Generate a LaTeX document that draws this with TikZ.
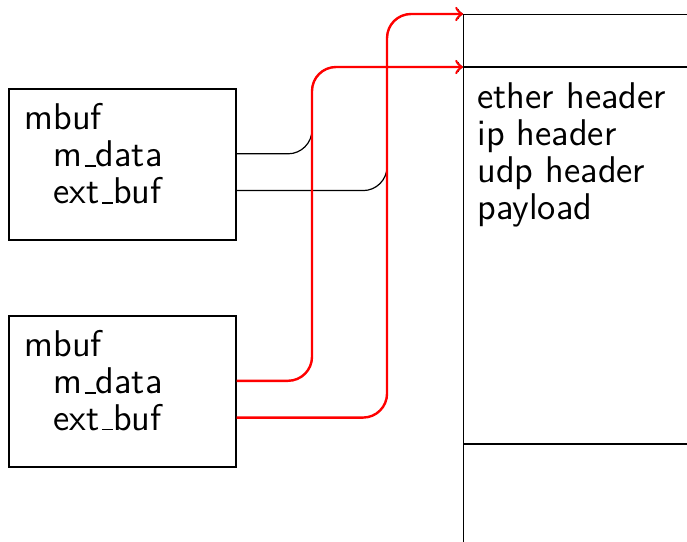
\documentclass[tikz,border=0pt]{standalone}
\usepackage{tikz}
\colorlet{cloneink}{red}
\newcommand{\lowbar}{\leavevmode\kern.06em\vbox{\hrule width.3em}}
\tikzset{
  every node/.style={font=\sffamily\fontsize{12.4}{12.3}\selectfont},
  mbufbox/.style={draw, thin, inner sep=0pt, minimum width=2.659cm, minimum height=1.769cm},
  field/.style={anchor=base west, inner sep=0pt},
  ptr/.style={thin, ->, rounded corners=8pt},
  cloneptr/.style={ptr, cloneink, thick},
}

\begin{document}
\begin{tikzpicture}
  \useasboundingbox (0,0) rectangle (8.048,6.338);
  % original mbuf
  \node[mbufbox] (mbufa) at (1.435,4.411) {};
  \node[field] (namea) at (0.281,4.821) {mbuf};
  \node[field] (mdataa) at (0.621,4.387) {m\lowbar data};
  \node[field] (extbufa) at (0.621,3.954) {ext\lowbar buf};
  % cloned mbuf
  \node[mbufbox] (mbufb) at (1.435,1.752) {};
  \node[field] (nameb) at (0.281,2.162) {mbuf};
  \node[field] (mdatab) at (0.621,1.728) {m\lowbar data};
  \node[field] (extbufb) at (0.621,1.295) {ext\lowbar buf};
  % shared data buffer
  \node[draw, thin, anchor=north west, inner sep=0pt, minimum width=4cm, minimum height=8cm] (buf) at (5.424,6.174) {};
  \coordinate (datastart) at (5.424,5.553);
  \coordinate (dataend) at (5.424,1.136);
  \draw[thin] (datastart) -- (datastart -| buf.east);
  \draw[thin] (dataend) -- (dataend -| buf.east);
  \node[anchor=north west, align=left, inner sep=0pt] (pkt) at (5.588,5.377) {ether header\\ip header\\udp header\\payload};
  % pointer channels
  \coordinate (chana) at (3.655,0);
  \coordinate (chanb) at (4.534,0);
  \draw[ptr] (mbufa.east |- mdataa) -| (chana |- datastart) -- (datastart);
  \draw[ptr] (mbufa.east |- extbufa) -| (chanb |- buf.north west) -- (buf.north west);
  \draw[cloneptr] (mbufb.east |- mdatab) -| (chana |- datastart) -- (datastart);
  \draw[cloneptr] (mbufb.east |- extbufb) -| (chanb |- buf.north west) -- (buf.north west);
\end{tikzpicture}
\end{document}
